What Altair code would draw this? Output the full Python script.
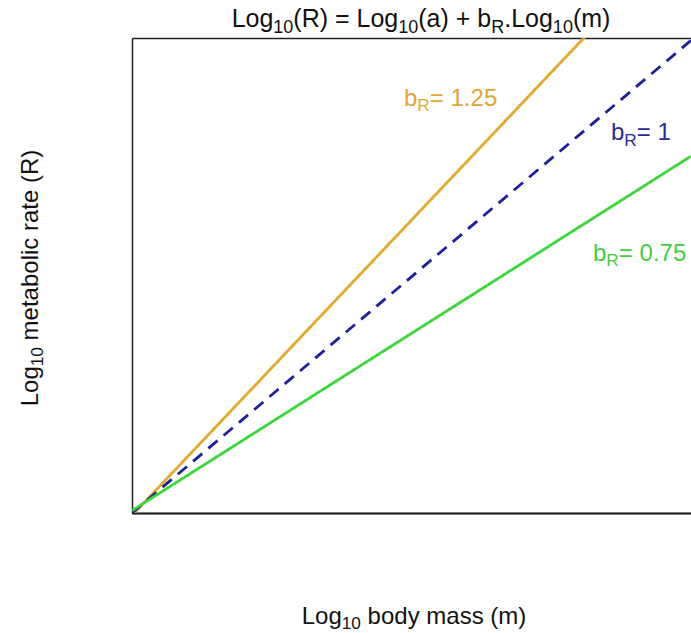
import altair as alt
import pandas as pd

FONT = "Liberation Sans"
W, H = 559, 475

# Allometric scaling lines: log10(R) = log10(a) + b_R * log10(m)
slopes = [1.25, 1.0, 0.75]
slope_text = ["1.25", "1", "0.75"]
line_colors = ["#E5A82A", "#1E1E9E", "#38D838"]
label_colors = ["#E2A533", "#2A2AA0", "#3FCF3F"]
line_dash = [[1, 0], [12, 8], [1, 0]]
log_a = 0.0
log_m_range = [-0.2, 9.5]

# label anchors (data units, start of text, baseline)
label_x = [4.52, 8.11, 7.80]
label_y = [8.15, 7.45, 4.97]

x_domain = [-0.2, 9.5]
y_domain = [-0.2, 9.55]

# Helvetica/Arial advance widths (per 1000 em)
ADV = {" ": 278, "(": 333, ")": 333, "+": 584, ".": 278, "=": 584,
       "L": 556, "R": 722, "a": 556, "b": 556, "c": 500, "d": 556,
       "e": 556, "g": 556, "i": 222, "l": 222, "m": 833, "o": 556,
       "r": 333, "s": 500, "t": 278, "y": 500}
for ch in "0123456789":
    ADV[ch] = 556

SUB_SCALE = 0.72
SUB_SHIFT = 0.22


def text_width(s, size):
    return sum(ADV.get(c, 556) for c in s) * size / 1000.0


def run_layout(runs, size):
    """Split rich text into (text, font size, x offset, baseline shift) pieces."""
    out, off = [], 0.0
    for txt, sub in runs:
        fs = size * SUB_SCALE if sub else size
        lead = len(txt) - len(txt.lstrip(" "))
        off += text_width(" " * lead, fs)
        body = txt.lstrip(" ")
        out.append((body, fs, off, size * SUB_SHIFT if sub else 0.0))
        off += text_width(body, fs)
    return out, off


one = pd.DataFrame({"k": [0]})


def pixel_text(runs, cx, cy, size, color, angle=0):
    """Text with subscripts, centred on cx (or cy when rotated); the other value is the baseline."""
    items, total = run_layout(runs, size)
    layers = []
    for txt, fs, off, shift in items:
        if angle == 0:
            px, py = cx - total / 2 + off, cy + shift
        else:
            px, py = cx + shift, cy + total / 2 - off
        layers.append(
            alt.Chart(one).mark_text(
                text=txt, align="left", baseline="alphabetic", fontSize=fs,
                font=FONT, color=color, angle=angle
            ).encode(x=alt.value(px), y=alt.value(py))
        )
    return layers


xs = alt.Scale(domain=x_domain, nice=False, zero=False)
ys = alt.Scale(domain=y_domain, nice=False, zero=False)
axis_style = dict(title=None, labels=False, ticks=False, grid=False,
                  domainColor="#222222", domainWidth=1.5)
left_axis = alt.Axis(orient="left", **axis_style)

layers = []
rows = []
for b in slopes:
    for x in log_m_range:
        rows.append({"b": b, "x": x, "y": log_a + b * x})
lines_df = pd.DataFrame(rows)

for i, b in enumerate(slopes):
    d = lines_df[lines_df["b"] == b]
    layers.append(
        alt.Chart(d).mark_line(
            clip=True, color=line_colors[i], strokeWidth=2.8,
            strokeDash=line_dash[i]
        ).encode(
            x=alt.X("x:Q", scale=xs, axis=alt.Axis(orient="bottom", **axis_style)),
            y=alt.Y("y:Q", scale=ys, axis=left_axis),
        )
    )

# top frame line
layers.append(
    alt.Chart(lines_df).mark_line(opacity=0).encode(
        x=alt.X("x:Q", scale=xs, axis=alt.Axis(orient="top", **axis_style)),
        y=alt.Y("y:Q", scale=ys, axis=left_axis),
    )
)

# slope labels with subscript R
LABEL_SIZE = 24
for i in range(3):
    runs = [("b", False), ("R", True), ("= " + slope_text[i], False)]
    items, _ = run_layout(runs, LABEL_SIZE)
    ld = pd.DataFrame({"x": [label_x[i]], "y": [label_y[i]]})
    for txt, fs, off, shift in items:
        layers.append(
            alt.Chart(ld).mark_text(
                text=txt, align="left", baseline="alphabetic", fontSize=fs,
                font=FONT, color=label_colors[i], dx=off, dy=shift
            ).encode(x=alt.X("x:Q", scale=xs, axis=None),
                     y=alt.Y("y:Q", scale=ys, axis=left_axis))
        )

# title
layers += pixel_text(
    [("Log", False), ("10", True), ("(R) = Log", False), ("10", True),
     ("(a) + b", False), ("R", True), (".Log", False), ("10", True), ("(m)", False)],
    421 - 132, 27 - 38, 25, "#111111")

# axis titles
layers += pixel_text([("Log", False), ("10", True), (" body mass (m)", False)],
                     414 - 132, 624 - 38, 24, "#111111")
layers += pixel_text([("Log", False), ("10", True), (" metabolic rate (R)", False)],
                     38 - 132, 278 - 38, 24, "#111111", angle=270)

chart = alt.layer(*layers).resolve_axis(x="independent").properties(
    width=W, height=H,
    autosize="none",
    padding={"left": 132, "top": 38, "right": 0, "bottom": 120},
    background="white",
).configure_view(stroke=None)

chart.save("out.html", embed_options={"renderer": "svg", "actions": False})
